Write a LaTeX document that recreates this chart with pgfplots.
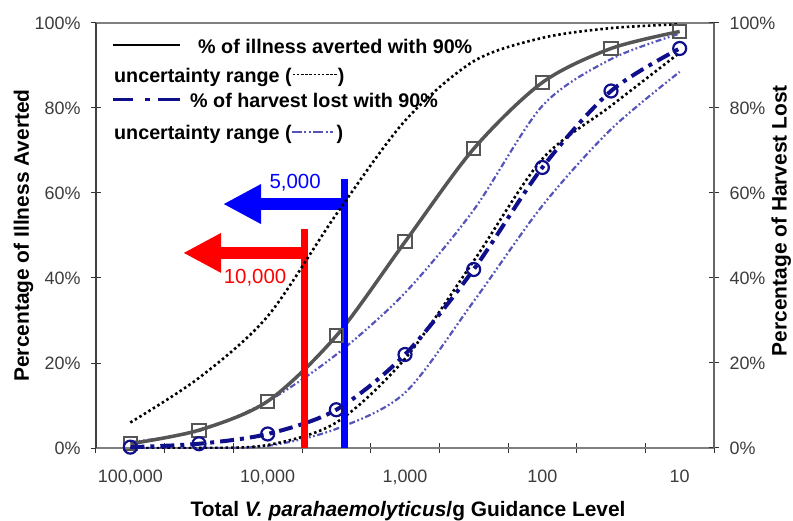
\documentclass[border=0pt]{standalone}
\usepackage{pgfplots}
\pgfplotsset{compat=1.18}
\usepackage{pgfplotstable}
\usepackage{fontspec}
\setmainfont{Liberation Sans}
\usetikzlibrary{arrows.meta}
\definecolor{illgrey}{RGB}{85,85,85}
\definecolor{harvnavy}{RGB}{15,15,140}
\definecolor{harvunc}{RGB}{85,85,185}
\definecolor{annblue}{RGB}{0,0,255}
\definecolor{annred}{RGB}{255,0,0}
\definecolor{tickgrey}{RGB}{60,60,60}

\pgfplotstableread{
u     ill   harv  illup illlo harvup harvlo
-5    1.0   0.2   6.0   0.0   1.4    0.0
-4.5  4.2   1.0   16.5  0.0   4.0    0.0
-4    11.0  3.3   31.0  0.7   11.0   0.5
-3.5  26.4  9.0   55.0  6.0   22.0   4.5
-3    48.5  22.0  77.0  21.0  36.5   13.0
-2.5  70.4  42.0  91.0  44.0  56.0   34.5
-2    86.0  66.0  96.5  68.0  80.5   57.0
-1.5  94.0  84.0  98.8  80.5  91.5   75.0
-1    98.0  94.0  99.7  93.0  97.5   88.5
}\data

\newcommand{\lgfont}{\fontsize{19.8}{22}\selectfont\bfseries}
\newcommand{\blackdash}{\hbox to 46bp{\xleaders\hbox to 4bp{\hss\rule[7bp]{2.5bp}{1bp}\hss}\hfill}}
\newcommand{\bluedash}{\textcolor{harvunc}{\rule[6bp]{10bp}{1.6bp}\hspace{2.5bp}\rule[6bp]{2bp}{1.6bp}\hspace{2.5bp}\rule[6bp]{2bp}{1.6bp}\hspace{2.5bp}\rule[6bp]{10bp}{1.6bp}\hspace{2.5bp}\rule[6bp]{2bp}{1.6bp}\hspace{2.5bp}\rule[6bp]{3bp}{1.6bp}}}

\begin{document}
\begin{tikzpicture}
\begin{axis}[
  scale only axis, width=618bp, height=425bp,
  xmin=-5.25, xmax=-0.75, ymin=0, ymax=100,
  separate axis lines,
  x axis line style={gray, line width=1.5bp},
  y axis line style={black!75, line width=1.3bp},
  xtick={-5.25,-4.75,-4.25,-3.75,-3.25,-2.75,-2.25,-1.75,-1.25,-0.75},
  xticklabels={},
  extra x ticks={-5,-4,-3,-2,-1},
  extra x tick labels={{100,000},{10,000},{1,000},100,10},
  extra x tick style={major tick length=0pt},
  ytick={0,20,40,60,80,100},
  yticklabels={0\%,20\%,40\%,60\%,80\%,100\%},
  tick pos=left,
  tick align=center,
  major tick length=10bp,
  tick style={black!80, line width=1bp},
  tick label style={font=\fontsize{18}{20}\selectfont, text=tickgrey},
  xticklabel style={yshift=-18bp},
  yticklabel style={xshift=-7bp},
  xlabel={Total \textit{V. parahaemolyticus}/g Guidance Level},
  xlabel style={font=\fontsize{21}{24}\selectfont\bfseries, at={(axis description cs:0.505,-0.149)}, anchor=center},
  ylabel={Percentage of Illness Averted},
  ylabel style={font=\fontsize{21}{24}\selectfont\bfseries, at={(axis description cs:-0.1173,0.5)}, anchor=center},
  clip=true,
]
% uncertainty ranges
\addplot[harvunc, line width=2.2bp, dash pattern=on 6bp off 2.5bp on 1.8bp off 2.5bp on 1.8bp off 2.5bp, smooth] table[x=u,y=harvup]{\data};
\addplot[harvunc, line width=2.2bp, dash pattern=on 6bp off 2.5bp on 1.8bp off 2.5bp on 1.8bp off 2.5bp, smooth] table[x=u,y=harvlo]{\data};
\addplot[black, line width=2.6bp, dash pattern=on 2.5bp off 2.8bp, smooth] table[x=u,y=illlo]{\data};
% main curves
\addplot[illgrey, line width=3.5bp, smooth, mark=square, mark size=6.6bp, mark options={solid, line width=2bp, fill=none}] table[x=u,y=ill]{\data};
\addplot[harvnavy, line width=4bp, dash pattern=on 14bp off 6bp on 4bp off 6bp, smooth, mark=o, mark size=6.5bp, mark options={solid, line width=2.2bp, fill=none}] table[x=u,y=harv]{\data};
% guidance levels
\addplot[annred, line width=7bp] coordinates {(-3.735,0) (-3.735,51.5)};
\addplot[annred, line width=12bp, -{Triangle[length=38bp,width=37bp]}] coordinates {(-3.735,45.9) (-4.616,45.9)};
\addplot[annblue, line width=7bp] coordinates {(-3.438,0) (-3.438,63.3)};
\addplot[annblue, line width=12bp, -{Triangle[length=38bp,width=37bp]}] coordinates {(-3.438,57.4) (-4.325,57.4)};
\addplot[black, line width=2.6bp, dash pattern=on 2.5bp off 2.8bp, smooth] table[x=u,y=illup]{\data};
\node[annblue, font=\fontsize{20.5}{22}\selectfont] at (axis cs:-3.80,62.4) {5,000};
\node[annred, font=\fontsize{20.5}{22}\selectfont] at (axis cs:-4.092,40.0) {10,000};
% legend text
\node[anchor=base west, inner sep=0pt, font=\lgfont] at (axis cs:-5.126,92.9)
  {\rule[7bp]{67bp}{2.5bp}\hspace{18bp}\% of illness averted with 90\%};
\node[anchor=base west, inner sep=0pt, font=\lgfont] at (axis cs:-5.119,86.1)
  {uncertainty range (\blackdash)};
\node[anchor=base west, inner sep=0pt, font=\lgfont] at (axis cs:-5.126,80.0)
  {\textcolor{harvnavy}{\rule[6.5bp]{20bp}{3bp}\hspace{12bp}\rule[6.5bp]{5bp}{3bp}\hspace{8bp}\rule[6.5bp]{22bp}{3bp}}\hspace{10bp}\% of harvest lost with 90\%};
\node[anchor=base west, inner sep=0pt, font=\lgfont] at (axis cs:-5.119,72.7)
  {uncertainty range (\bluedash\,)};
\end{axis}
\begin{axis}[
  scale only axis, width=618bp, height=425bp,
  xmin=-5.25, xmax=-0.75, ymin=0, ymax=100,
  axis x line=none, axis y line*=right,
  y axis line style={black!60, line width=1.1bp},
  ytick={0,20,40,60,80,100},
  yticklabels={0\%,20\%,40\%,60\%,80\%,100\%},
  tick align=center,
  major tick length=10bp,
  tick style={black!80, line width=1bp},
  tick label style={font=\fontsize{18}{20}\selectfont, text=tickgrey},
  yticklabel style={xshift=7bp},
  ylabel={Percentage of Harvest Lost},
  ylabel style={font=\fontsize{21}{24}\selectfont\bfseries, at={(axis description cs:1.109,0.535)}, anchor=center, rotate=0},
]
\addplot[draw=none] coordinates {(-3,50)};
\end{axis}
\pgfresetboundingbox
\path (-96bp,-73bp) rectangle (697bp,448bp);
\end{tikzpicture}
\end{document}
